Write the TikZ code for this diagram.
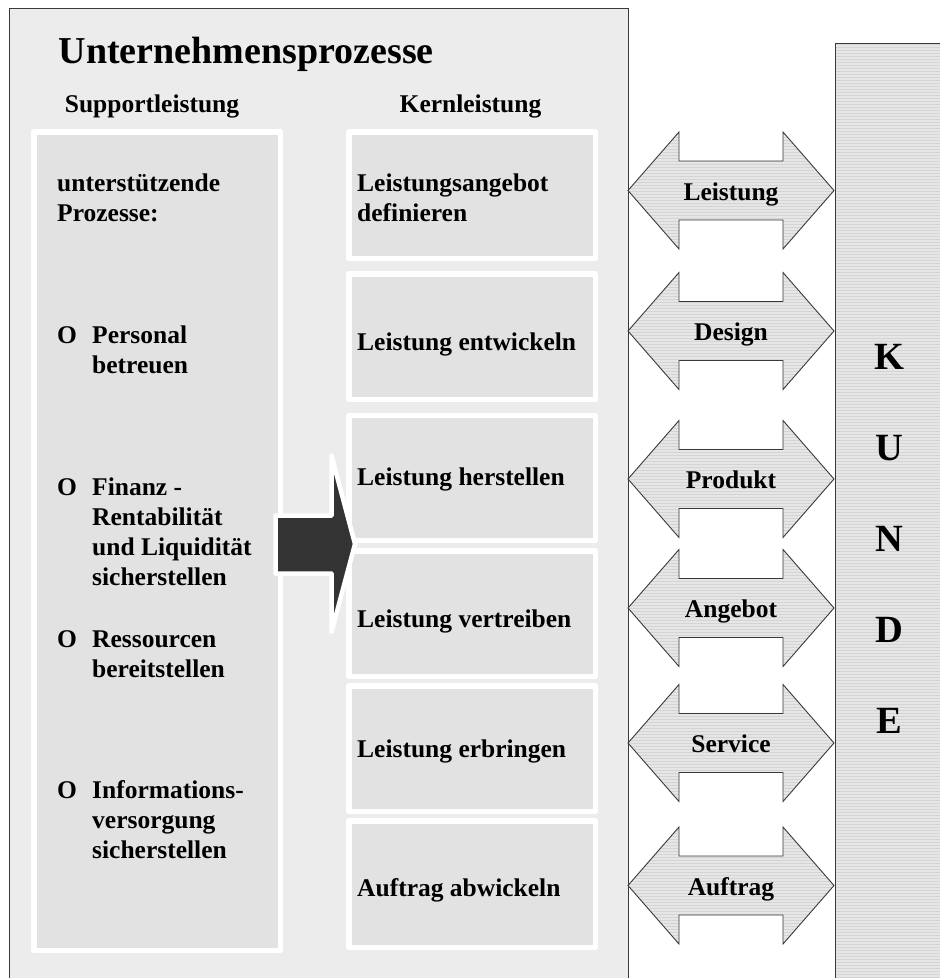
\documentclass[tikz,border=0pt]{standalone}
\usepackage{fontspec}
\setmainfont{Liberation Serif}
\usetikzlibrary{patterns}

\definecolor{panelbg}{HTML}{ECECEC}
\definecolor{cellfill}{HTML}{E2E2E2}
\definecolor{edgegray}{HTML}{3A3A3A}
\definecolor{bigarrow}{HTML}{333333}
\definecolor{stripebg}{HTML}{E6E6E6}
\definecolor{stripefg}{HTML}{D4D4D4}

\tikzset{
  cell/.style={fill=cellfill, draw=white, line width=5.5pt, line join=round,
    inner sep=0pt, outer sep=0pt, anchor=north west},
  % multi-line texts: base anchor sits on the last line's baseline
  bodytext/.style={font=\bfseries\fontsize{25.5}{30}\selectfont, inner sep=0pt,
    align=left, anchor=base west},
  headtext/.style={font=\bfseries\fontsize{25.5}{30}\selectfont, inner sep=0pt, anchor=base},
  titletext/.style={font=\bfseries\fontsize{38}{44}\selectfont, inner sep=0pt, anchor=base west},
  striped/.style={preaction={fill=stripebg}, pattern=horizontal lines, pattern color=stripefg},
  flowarrow/.style={striped, draw=edgegray, line width=0.9pt, line join=miter},
  flowlabel/.style={font=\bfseries\fontsize{25.5}{30}\selectfont, inner sep=0pt, anchor=base},
}

\begin{document}
\begin{tikzpicture}[x=1pt, y=-1pt]
  \useasboundingbox (0,0) rectangle (940,978);
  \fill[white] (0,0) rectangle (940,978);

  % company panel, open towards the bottom
  \fill[panelbg] (9,8) rectangle (628,990);
  \draw[edgegray, line width=1pt] (9,990) -- (9,8) -- (628,8) -- (628,990);

  % customer column
  \path[striped] (835,43) rectangle (950,990);
  \draw[edgegray, line width=1pt] (835,990) -- (835,43) -- (950,43);

  % headings
  \node[titletext] (title) at (58.5,63) {Unternehmensprozesse};
  \node[headtext] (hsup) at (152,112) {Supportleistung};
  \node[headtext] (hkern) at (470.5,112) {Kernleistung};

  % support column
  \node[cell, minimum width=246.5pt, minimum height=818.5pt] (sup) at (33.75,131.75) {};

  % core process cells
  \node[cell, minimum width=246.5pt, minimum height=126.5pt] (k1) at (348.75,131.75) {};
  \node[cell, minimum width=246.5pt, minimum height=125.5pt] (k2) at (348.75,273.75) {};
  \node[cell, minimum width=246.5pt, minimum height=125pt]   (k3) at (348.75,415.25) {};
  \node[cell, minimum width=246.5pt, minimum height=125.5pt] (k4) at (348.75,550.75) {};
  \node[cell, minimum width=246.5pt, minimum height=125.5pt] (k5) at (348.75,685.75) {};
  \node[cell, minimum width=246.5pt, minimum height=126.5pt] (k6) at (348.75,820.75) {};

  \node[bodytext] (k1t) at (357,221) {Leistungsangebot\\definieren};
  \node[bodytext] (k2t) at (357,350) {Leistung entwickeln};
  \node[bodytext] (k3t) at (357,485) {Leistung herstellen};
  \node[bodytext] (k4t) at (357,627) {Leistung vertreiben};
  \node[bodytext] (k5t) at (357,757) {Leistung erbringen};
  \node[bodytext] (k6t) at (357,896) {Auftrag abwickeln};

  % support items
  \node[bodytext] (s0) at (57,221) {unterstützende\\Prozesse:};
  \node[bodytext] (b1) at (57,343) {O};
  \node[bodytext] (s1) at (92,373) {Personal\\betreuen};
  \node[bodytext] (b2) at (57,495) {O};
  \node[bodytext] (s2) at (92,585) {Finanz -\\Rentabilität\\und Liquidität\\sicherstellen};
  \node[bodytext] (b3) at (57,647) {O};
  \node[bodytext] (s3) at (92,677) {Ressourcen\\bereitstellen};
  \node[bodytext] (b4) at (57,798) {O};
  \node[bodytext] (s4) at (92,858) {Informations-\\versorgung\\sicherstellen};

  % block arrow from support into the core processes
  \filldraw[fill=bigarrow, draw=white, line width=4.5pt, line join=round]
    (275.5,515.5) -- (331.5,515.5) -- (331.5,455.5) -- (355,544)
    -- (331.5,632) -- (331.5,573.5) -- (275.5,573.5) -- cycle;

  % exchange arrows between company and customer
  \foreach \c/\lbl/\nm in {190.5/Leistung/a1, 331/Design/a2, 479/Produkt/a3,
                           608/Angebot/a4, 743/Service/a5, 885.5/Auftrag/a6} {
    \draw[flowarrow] (628,\c) -- (679,\c-58.5) -- (679,\c-29.5) -- (783,\c-29.5)
      -- (783,\c-58.5) -- (834,\c) -- (783,\c+58.5) -- (783,\c+29.5)
      -- (679,\c+29.5) -- (679,\c+58.5) -- cycle;
    \node[flowlabel] (\nm) at (731,\c+9.5) {\lbl};
  }

  % customer label, base on the last letter
  \node[font=\bfseries\fontsize{38.5}{91}\selectfont, inner sep=0pt, align=center, anchor=base]
    (kunde) at (889,733) {K\\U\\N\\D\\E};
\end{tikzpicture}
\end{document}
